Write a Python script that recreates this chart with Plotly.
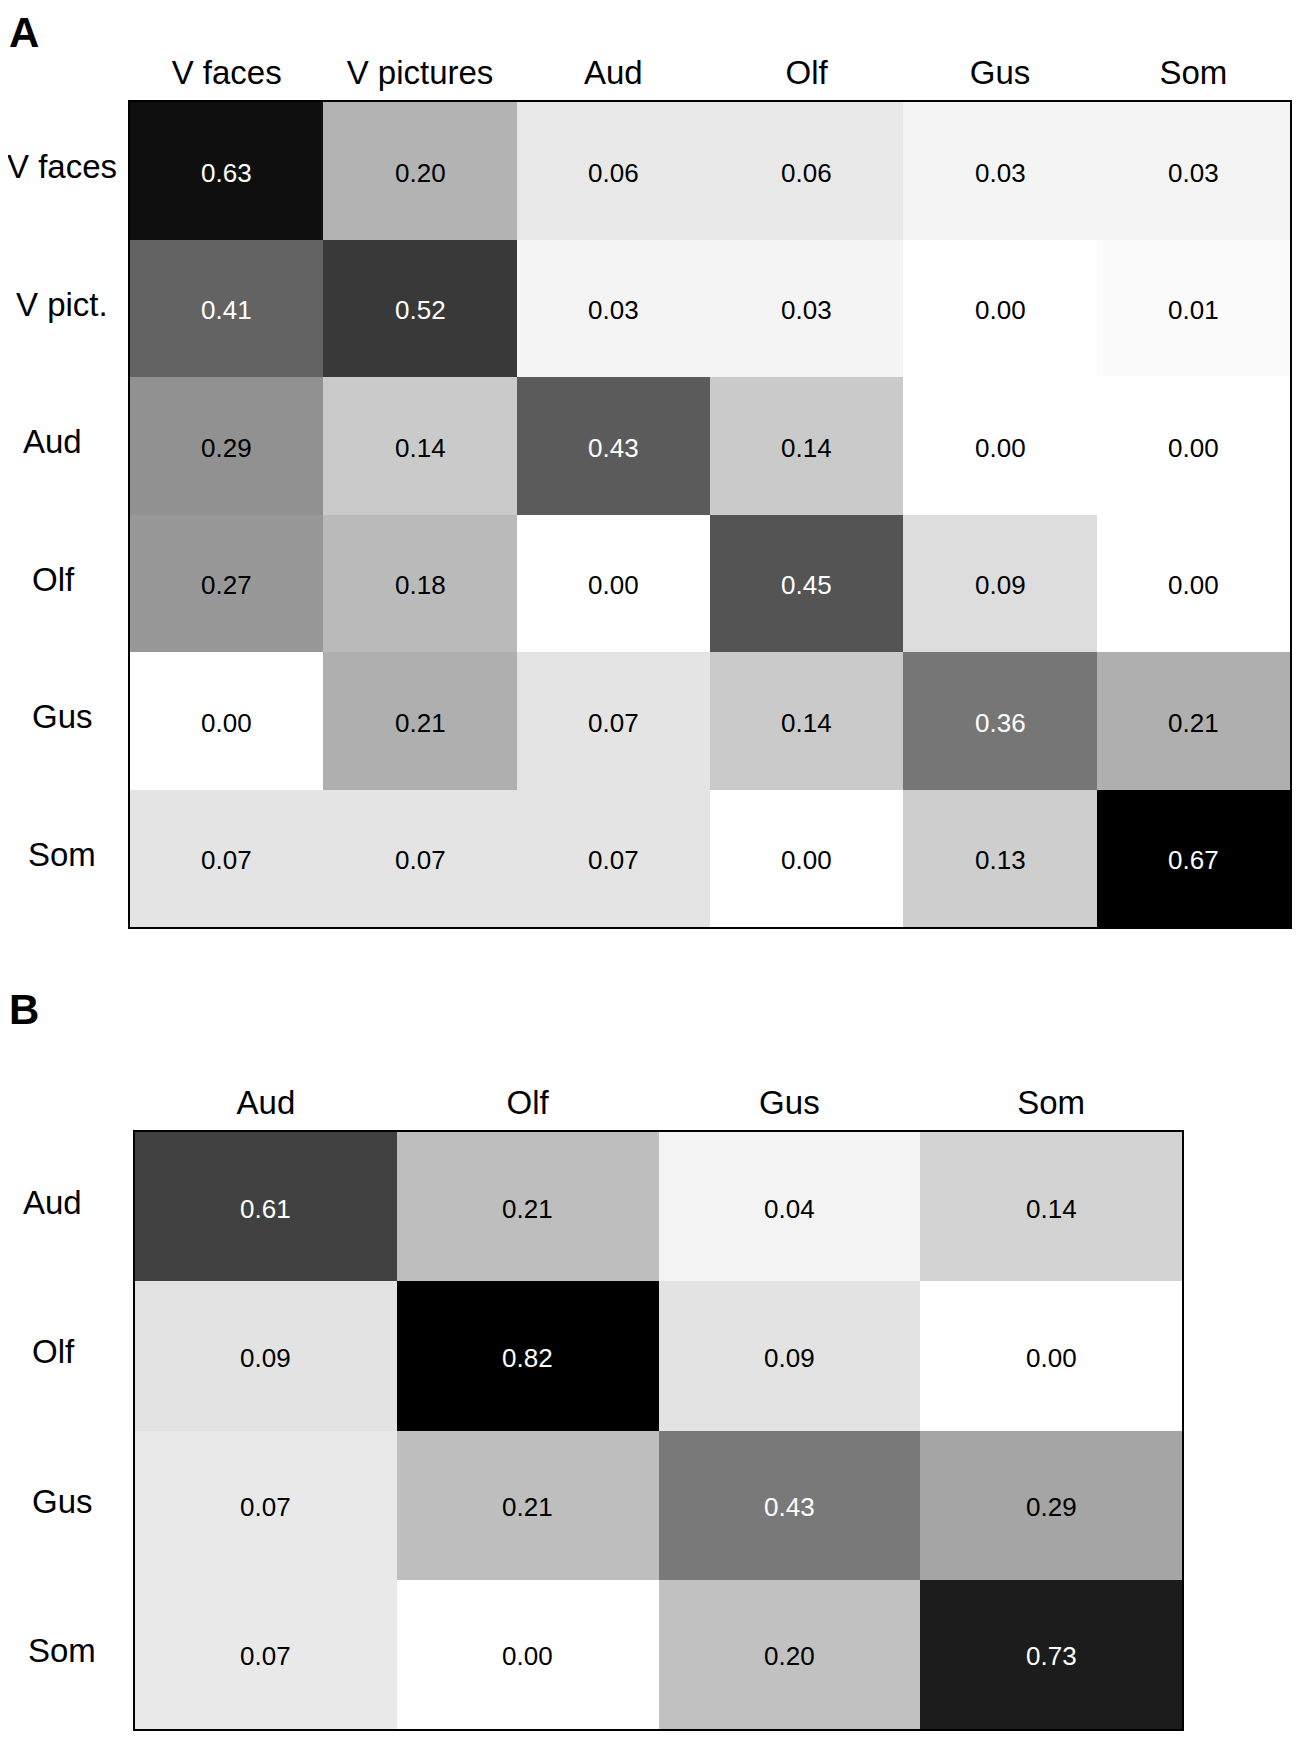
import plotly.graph_objects as go

# panel A: 6x6 classification matrix
a_cols = ["V faces", "V pictures", "Aud", "Olf", "Gus", "Som"]
a_rows = ["V faces", "V pict.", "Aud", "Olf", "Gus", "Som"]
a_vals = [
    [0.63, 0.20, 0.06, 0.06, 0.03, 0.03],
    [0.41, 0.52, 0.03, 0.03, 0.00, 0.01],
    [0.29, 0.14, 0.43, 0.14, 0.00, 0.00],
    [0.27, 0.18, 0.00, 0.45, 0.09, 0.00],
    [0.00, 0.21, 0.07, 0.14, 0.36, 0.21],
    [0.07, 0.07, 0.07, 0.00, 0.13, 0.67],
]

# panel B: 4x4 matrix
b_cols = ["Aud", "Olf", "Gus", "Som"]
b_rows = ["Aud", "Olf", "Gus", "Som"]
b_vals = [
    [0.61, 0.21, 0.04, 0.14],
    [0.09, 0.82, 0.09, 0.00],
    [0.07, 0.21, 0.43, 0.29],
    [0.07, 0.00, 0.20, 0.73],
]

# page has an 8px body margin, so the figure is a bit smaller than the window
W, H = 1284, 1724
FONT = "Liberation Sans"
grays = [[0, "white"], [1, "black"]]
# row labels are not quite aligned in the original
row_label_x = {"Aud": 45, "Olf": 46}

fig = go.Figure()


def add_panel(cols, rows, vals, xa, ya):
    vmax = max(max(r) for r in vals)
    fig.add_trace(go.Heatmap(z=vals, x=cols, y=rows, zmin=0, zmax=vmax,
                             colorscale=grays, showscale=False,
                             xaxis=xa, yaxis=ya, hoverinfo="skip"))
    # cell values, white on the dark cells
    for i, r in enumerate(rows):
        for j, c in enumerate(cols):
            v = vals[i][j]
            fig.add_annotation(x=c, y=r, xref=xa, yref=ya, text="%.2f" % v,
                               showarrow=False, yshift=-2,
                               font=dict(family=FONT, size=26,
                                         color="white" if v / vmax > 0.5 else "black"))
    for r in rows:
        fig.add_annotation(x=row_label_x.get(r, 54) / W, y=r, xref="paper", yref=ya,
                           text=r, showarrow=False, xanchor="center", yshift=4,
                           font=dict(family=FONT, size=33, color="black"))


add_panel(a_cols, a_rows, a_vals, "x", "y")
add_panel(b_cols, b_rows, b_vals, "x2", "y2")

axis_x = dict(side="top", showgrid=False, zeroline=False, ticks="",
              showline=True, mirror=True, linecolor="black", linewidth=2,
              tickfont=dict(family=FONT, size=33, color="black"),
              ticklabelstandoff=3, fixedrange=True)
axis_y = dict(showgrid=False, zeroline=False, ticks="", showticklabels=False,
              showline=True, mirror=True, linecolor="black", linewidth=2,
              autorange="reversed", fixedrange=True)

fig.update_layout(
    width=W, height=H,
    margin=dict(l=0, r=0, t=0, b=0),
    paper_bgcolor="white", plot_bgcolor="white",
    showlegend=False,
    xaxis=dict(axis_x, domain=[122 / W, 1282 / W], anchor="y",
               categoryorder="array", categoryarray=a_cols),
    yaxis=dict(axis_y, domain=[1 - 919 / H, 1 - 94 / H], anchor="x",
               categoryorder="array", categoryarray=a_rows),
    xaxis2=dict(axis_x, domain=[127 / W, 1174 / W], anchor="y2",
                categoryorder="array", categoryarray=b_cols),
    yaxis2=dict(axis_y, domain=[1 - 1721 / H, 1 - 1124 / H], anchor="x2",
                categoryorder="array", categoryarray=b_rows),
)

# panel letters
for letter, ytop in [("A", 0), ("B", 977)]:
    fig.add_annotation(x=0, y=1 - ytop / H, xref="paper", yref="paper",
                       text="<b>%s</b>" % letter, showarrow=False,
                       xanchor="left", yanchor="top", borderpad=0,
                       font=dict(family=FONT, size=42, color="black"))

fig.write_html("out.html")
